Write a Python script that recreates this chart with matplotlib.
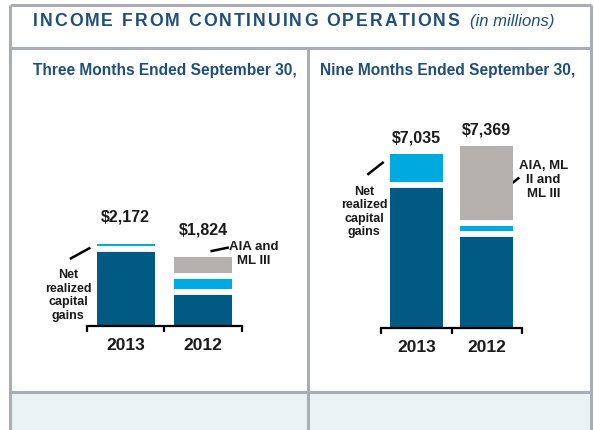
import matplotlib
matplotlib.use("Agg")
import matplotlib.pyplot as plt
from matplotlib.font_manager import FontProperties

plt.rcParams['font.family'] = ['Liberation Sans', 'DejaVu Sans']

# donnees (en millions)
years = ['2013', '2012']
three_net = [2034, 900]      # base (hors plus-values)
three_gains = [138, 420]     # Net realized capital gains
three_aia = [0, 504]         # AIA and ML III
three_totals = ['$2,172', '$1,824']

nine_net = [5783, 3790]
nine_gains = [1252, 455]
nine_aia = [0, 3124]         # AIA, ML II and ML III
nine_totals = ['$7,035', '$7,369']

DARK = '#005A84'
LIGHT = '#00A9E0'
GREY = '#B4B0AD'
NAVY = '#1F4E7F'
BORDER = '#A8AEB4'
INK = '#1a1a1a'

W, H = 594, 430
fig = plt.figure(figsize=(W / 100, H / 100), dpi=100)

# fond en coordonnees pixels
bg = fig.add_axes([0, 0, 1, 1])
bg.set_xlim(0, W)
bg.set_ylim(H, 0)
bg.axis('off')

bg.fill_between([10, 591], 392, 430, color='#EAF2F4', lw=0)
for xs, ys in [([10, 591], [4.5, 4.5]), ([10, 591], [47.5, 47.5]), ([10, 591], [392, 392]),
               ([10, 10], [4.5, 430]), ([591, 591], [4.5, 430]), ([307.5, 307.5], [47.5, 430])]:
    bg.plot(xs, ys, color=BORDER, lw=2.2, solid_capstyle='butt')

# titre avec espacement des lettres
title = 'INCOME FROM CONTINUING OPERATIONS'
fp = FontProperties(family='Liberation Sans', weight='bold', size=12.7)
renderer = fig.canvas.get_renderer()
natural = renderer.get_text_width_height_descent(title, fp, ismath=False)[0]
spacing = (427 - natural) / (len(title) - 1)
x0 = 32.7
for i, ch in enumerate(title):
    w_prefix = renderer.get_text_width_height_descent(title[:i], fp, ismath=False)[0] if i else 0
    bg.text(x0 + w_prefix + i * spacing, 21, ch, fontproperties=fp, color=NAVY,
            ha='left', va='center')
bg.text(470, 21.5, '(in millions)', fontsize=12, style='italic', color=NAVY,
        ha='left', va='center')

bg.text(32.7, 70.5, 'Three Months Ended September 30,', fontsize=11.2, weight='bold',
        color=NAVY, ha='left', va='center')
bg.text(320, 70.5, 'Nine Months Ended September 30,', fontsize=11.2, weight='bold',
        color=NAVY, ha='left', va='center')


def panel(rect, ymax, net, gains, aia, totals, label_off):
    ax = fig.add_axes(rect)
    ax.patch.set_alpha(0)
    x = range(len(years))
    bw = 0.75
    ax.bar(x, net, width=bw, color=DARK)
    ax.bar(x, gains, bottom=net, width=bw, color=LIGHT)
    b2 = [n + g for n, g in zip(net, gains)]
    ax.bar(x, aia, bottom=b2, width=bw, color=GREY)
    # separations blanches entre segments
    for i in x:
        bounds = [net[i]]
        if aia[i] > 0:
            bounds.append(b2[i])
        ax.hlines(bounds, i - bw / 2 - 0.02, i + bw / 2 + 0.02, color='white', lw=4.2)
        total = net[i] + gains[i] + aia[i]
        ax.annotate(totals[i], (i, total), xytext=(0, label_off), textcoords='offset points',
                    ha='center', va='bottom', fontsize=11.5, weight='bold', color=INK)
    ax.set_xlim(-0.5, 1.5)
    ax.set_ylim(0, ymax)
    for s in ['top', 'right', 'left']:
        ax.spines[s].set_visible(False)
    ax.spines['bottom'].set_linewidth(1.6)
    ax.spines['bottom'].set_color('black')
    ax.set_yticks([])
    ax.set_xticks([-0.5, 0.5, 1.5])
    ax.set_xticklabels([])
    ax.tick_params(axis='x', direction='out', length=4, width=1.6, color='black')
    for i, yr in enumerate(years):
        ax.annotate(yr, (i, 0), xytext=(0, -14), textcoords='offset points',
                    ha='center', va='center', fontsize=12.5, weight='bold', color=INK)
    return ax


panel([87 / W, (H - 325.7) / H, 154.7 / W, 225.7 / H], 6000,
      three_net, three_gains, three_aia, three_totals, 14)
panel([381 / W, (H - 328.3) / H, 141 / W, 228.3 / H], 9215,
      nine_net, nine_gains, nine_aia, nine_totals, 6)

# etiquettes et traits de rappel
lab = dict(fontsize=9, weight='bold', color=INK, ha='center', va='center', linespacing=1.17)
bg.text(68, 295.5, 'Net\nrealized\ncapital\ngains', **lab)
bg.plot([71, 89.3], [258.3, 248.3], color='black', lw=1.8)
bg.text(254, 254, 'AIA and\nML III', **dict(lab, fontsize=9.5))
bg.plot([211.7, 227.7], [251, 247.7], color='black', lw=1.8)

bg.text(364, 211.8, 'Net\nrealized\ncapital\ngains', **lab)
bg.plot([368.3, 382.7], [174, 162.7], color='black', lw=1.8)
bg.text(543.3, 180, 'AIA, ML\nII and\nML III', **dict(lab, fontsize=9.5, linespacing=1.22))
bg.plot([510.7, 518.3], [184.3, 178.3], color='black', lw=1.8)

fig.savefig('out.png', dpi=100)
